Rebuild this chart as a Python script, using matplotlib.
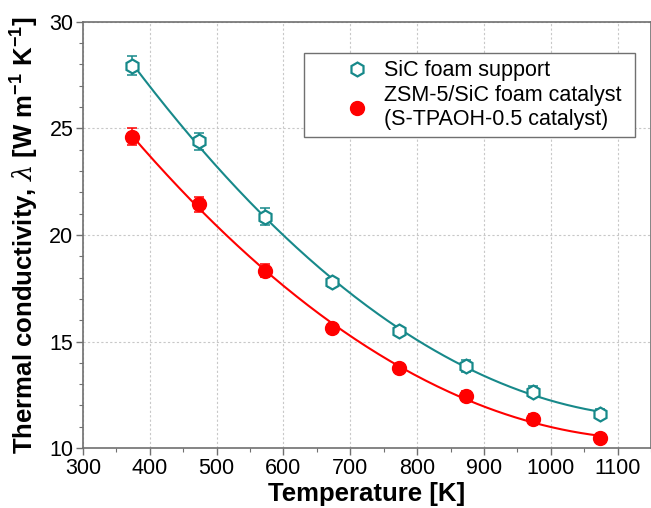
import numpy as np
import matplotlib
matplotlib.use('Agg')
import matplotlib.pyplot as plt
from matplotlib.ticker import MultipleLocator

plt.rcParams['font.family'] = ['Liberation Sans', 'DejaVu Sans']
plt.rcParams['mathtext.fontset'] = 'custom'
plt.rcParams['mathtext.rm'] = 'Liberation Sans:bold'
plt.rcParams['mathtext.bf'] = 'Liberation Sans:bold'
plt.rcParams['mathtext.it'] = 'DejaVu Serif:italic'

# temperature [K]
temperature = [373, 473, 573, 673, 773, 873, 973, 1073]

# SiC foam support
sic_lambda = [27.95, 24.4, 20.85, 17.78, 15.5, 13.85, 12.65, 11.62]
sic_err = [0.45, 0.4, 0.4, 0.2, 0.2, 0.3, 0.25, 0.2]

# ZSM-5/SiC foam catalyst
zsm_lambda = [24.6, 21.45, 18.33, 15.65, 13.74, 12.44, 11.36, 10.45]
zsm_err = [0.4, 0.35, 0.3, 0.15, 0.15, 0.25, 0.25, 0.15]

teal = '#17898a'
red = '#ff0000'

fig = plt.figure(figsize=(6.51, 5.08), dpi=100)
ax = fig.add_axes([0.1275, 0.118, 0.8725, 0.839])

# fitted trend lines (2nd order fit of the measured points)
T = np.array(temperature, dtype=float)
tt = np.linspace(T.min(), T.max(), 200)
for y, c in [(sic_lambda, teal), (zsm_lambda, red)]:
    p = np.polyfit(T, y, 2)
    ax.plot(tt, np.polyval(p, tt), color=c, lw=1.5, zorder=2)

ax.errorbar(temperature, sic_lambda, yerr=sic_err, fmt='none', ecolor=teal,
            capsize=3.5, elinewidth=1.1, capthick=1.1, zorder=3)
ax.errorbar(temperature, zsm_lambda, yerr=zsm_err, fmt='none', ecolor=red,
            capsize=3.5, elinewidth=1.1, capthick=1.1, zorder=3)
ax.plot(temperature, sic_lambda, 'h', mfc='white', mec=teal, mew=1.6, ms=10,
        zorder=4, label='SiC foam support')
ax.plot(temperature, zsm_lambda, 'o', mfc=red, mec=red, ms=10, zorder=4,
        label='ZSM-5/SiC foam catalyst \n(S-TPAOH-0.5 catalyst)')

ax.set_xlim(300, 1150)
ax.set_ylim(10, 30)
ax.xaxis.set_major_locator(MultipleLocator(100))
ax.xaxis.set_minor_locator(MultipleLocator(50))
ax.yaxis.set_major_locator(MultipleLocator(5))
ax.yaxis.set_minor_locator(MultipleLocator(1))
ax.grid(True, which='major', ls=(0, (2, 2)), color='#c8c8c8', lw=0.8)

for s in ax.spines.values():
    s.set_color('#707070')
    s.set_linewidth(1.2)
ax.tick_params(which='major', length=5, width=1, color='#707070', labelsize=15.5, pad=2)
ax.tick_params(which='minor', length=3, width=0.8, color='#707070')

ax.set_xlabel('Temperature [K]', fontsize=18.5, fontweight='bold', labelpad=2)
ax.set_ylabel(r'Thermal conductivity, $\mathit{\lambda}$ [W m$^{-1}$ K$^{-1}$]',
              fontsize=18.5, fontweight='bold', labelpad=6)

leg = ax.legend(loc='upper right', bbox_to_anchor=(0.972, 0.927), borderaxespad=0,
                fontsize=15.5, fancybox=False, edgecolor='#707070', framealpha=1,
                handlelength=4.2, handletextpad=-0.85, borderpad=0.35,
                labelspacing=0.15)
leg.get_frame().set_linewidth(1.0)

fig.savefig('out.png', dpi=100)
